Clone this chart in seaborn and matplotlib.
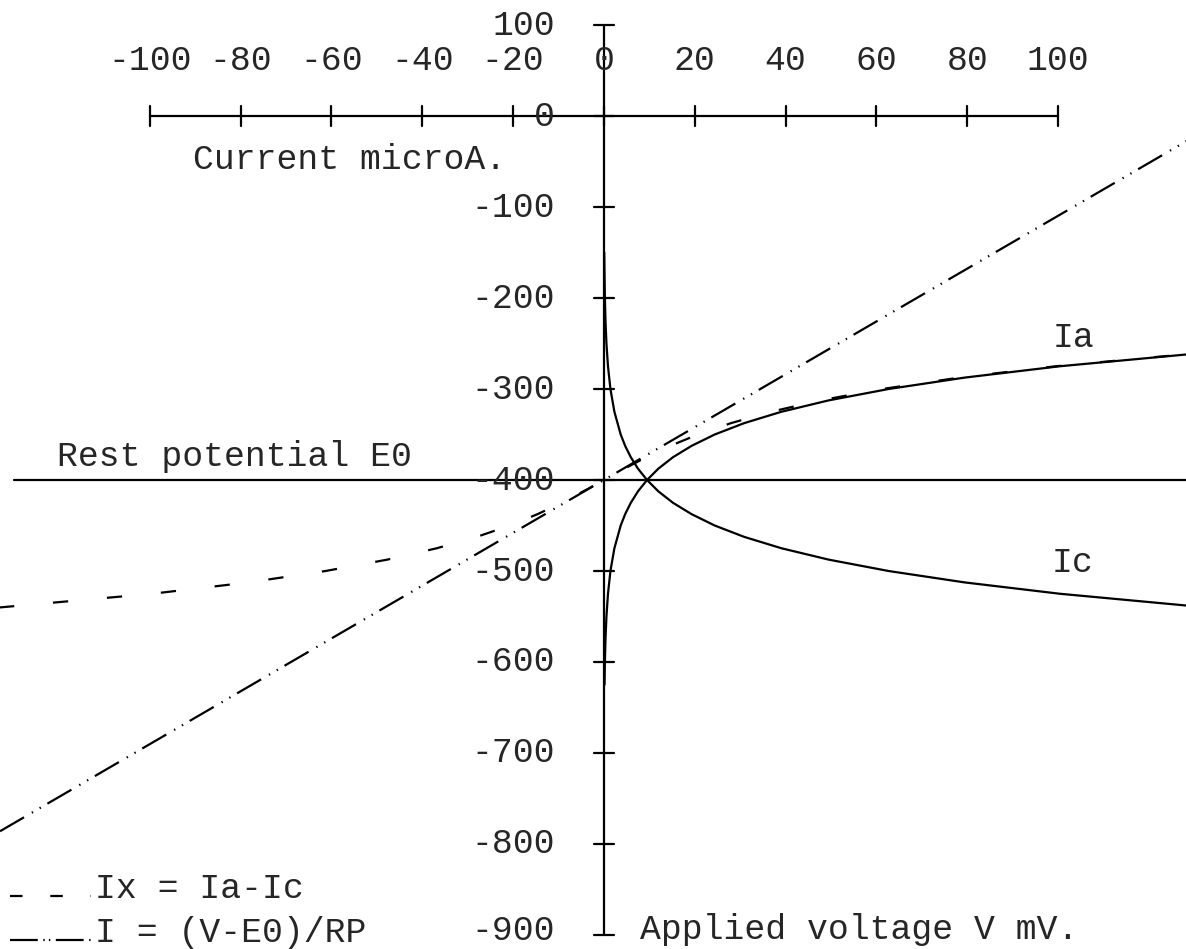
import pandas as pd
import seaborn as sns
import matplotlib.pyplot as plt

# x = current (microA), y = voltage (mV)
v_ia = [-625, -600, -575, -550, -525, -500, -475, -450, -437.5, -425, -412.5,
        -400, -387.5, -375, -362.5, -350, -337.5, -325, -312.5, -300, -287.5, -275, -262]
i_a = [0.14, 0.22, 0.35, 0.56, 0.90, 1.44, 2.31, 3.70, 4.68, 5.93, 7.50,
       9.5, 12.0, 15.2, 19.3, 24.4, 30.9, 39.1, 49.5, 62.7, 79.4, 100.4, 128.4]

v_ic = [-150, -175, -200, -225, -250, -275, -300, -325, -350, -362.5, -375, -387.5,
        -400, -412.5, -425, -437.5, -450, -462.5, -475, -487.5, -500, -512.5, -525, -538]
i_c = [0.08, 0.14, 0.22, 0.35, 0.56, 0.90, 1.44, 2.31, 3.70, 4.68, 5.93, 7.50,
       9.5, 12.0, 15.2, 19.3, 24.4, 30.9, 39.1, 49.5, 62.7, 79.4, 100.4, 128.4]

v_ix = [-541, -525, -512.5, -500, -487.5, -475, -462.5, -450, -437.5, -425, -410, -400,
        -390, -375, -362.5, -350, -337.5, -325, -312.5, -300, -287.5, -275, -262]
i_x = [-135.2, -99.5, -78.2, -61.3, -47.7, -36.8, -28.0, -20.7, -14.6, -9.3, -3.6, 0,
       3.6, 9.3, 14.6, 20.7, 28.0, 36.8, 47.7, 61.3, 78.2, 99.5, 127.7]

i_rp = [-133, 128.5]
v_rp = [-786, -27]

e0 = -400
i_rest = [-130, 129]

x_ticks = [-100, -80, -60, -40, -20, 0, 20, 40, 60, 80, 100]
y_ticks = [100, 0, -100, -200, -300, -400, -500, -600, -700, -800, -900]

sns.set_style("white")
plt.rcParams['font.family'] = ['Liberation Mono', 'DejaVu Sans Mono']
plt.rcParams['lines.scale_dashes'] = False

fig = plt.figure(figsize=(11.86, 9.49), dpi=100)
ax = fig.add_axes([0, 0, 1, 1])
ax.set_xlim(-133.0, 128.2)
ax.set_ylim(-915.4, 127.5)
ax.axis('off')

lw = 1.6
k = dict(color='black', lw=lw, ax=ax, sort=False, estimator=None, legend=False)

# axes drawn as plotter lines
ax.plot([-100, 100], [0, 0], color='black', lw=lw)
ax.plot([0, 0], [100, -900], color='black', lw=lw)
for xv in x_ticks:
    ax.plot([xv, xv], [-11, 11], color='black', lw=lw)
for yv in y_ticks:
    ax.plot([-2.2, 2.2], [yv, yv], color='black', lw=lw)

fs = 25
for xv in x_ticks:
    ax.text(xv, 61.5, str(xv), ha='center', va='center', fontsize=fs)
for yv in y_ticks:
    ty = -895 if yv == -900 else yv
    ax.text(-10.8, ty, str(yv), ha='right', va='center', fontsize=fs)

# curves
sns.lineplot(x=i_rest, y=[e0, e0], **k)
sns.lineplot(x=i_a, y=v_ia, **k)
sns.lineplot(x=i_c, y=v_ic, **k)
sns.lineplot(x=i_x, y=v_ix, **k)
ax.lines[-1].set_dashes([11, 28])
sns.lineplot(x=i_rp, y=v_rp, **k)
ax.lines[-1].set_dashes([20, 6.5, 1, 5.5, 1, 5.5])

ax.text(-90.5, -48, "Current microA.", ha='left', va='center', fontsize=fs)
ax.text(-120.5, -374, "Rest potential E0", ha='left', va='center', fontsize=fs)
ax.text(103.5, -243, "Ia", ha='center', va='center', fontsize=fs)
ax.text(103.3, -491, "Ic", ha='center', va='center', fontsize=fs)
ax.text(7.9, -894, "Applied voltage V mV.", ha='left', va='center', fontsize=fs)

# legend drawn in the plotter style, samples sitting on the text baseline
l1, = ax.plot([-130.8, -113], [-857, -857], color='black', lw=lw)
l1.set_dashes([9, 20])
ax.text(-112, -849, "Ix = Ia-Ic", ha='left', va='center', fontsize=fs)
l2, = ax.plot([-130.8, -113], [-906, -906], color='black', lw=lw)
l2.set_dashes([20, 4, 1, 3, 1, 4])
ax.text(-112, -897, "I = (V-E0)/RP", ha='left', va='center', fontsize=fs)

fig.savefig("out.png", dpi=100)
